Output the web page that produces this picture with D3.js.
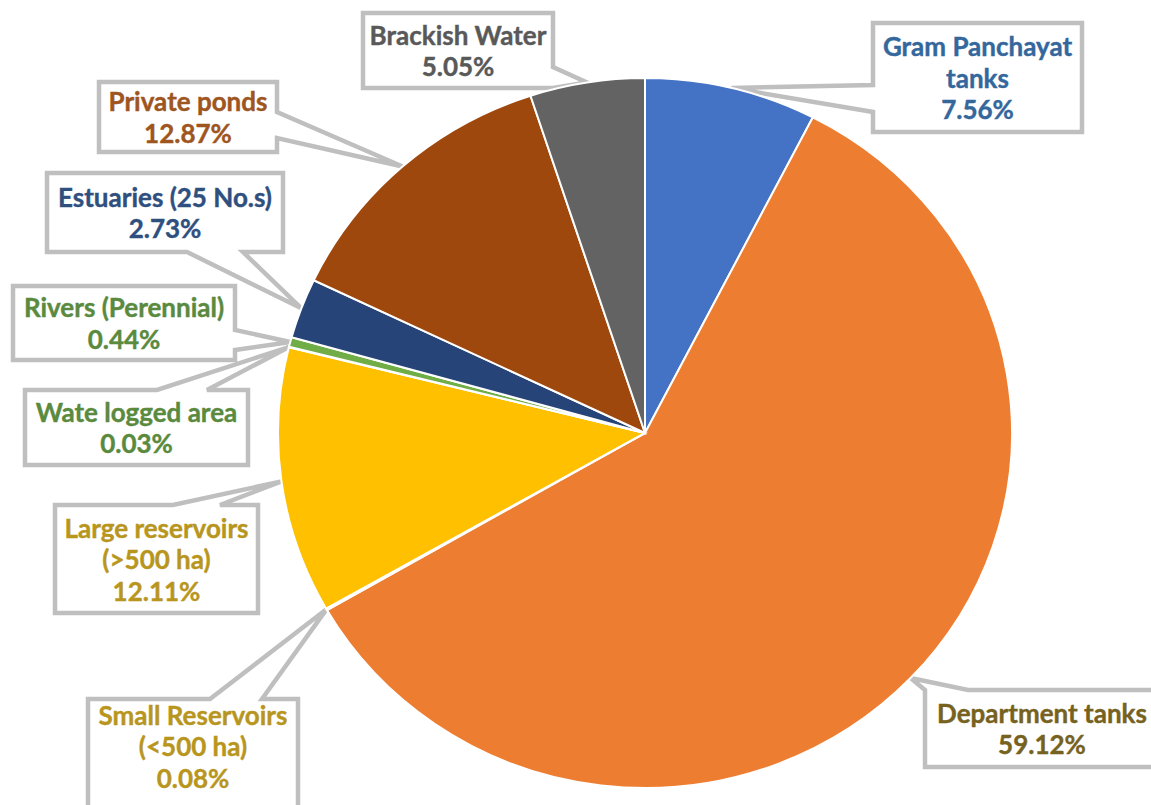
<!DOCTYPE html>
<meta charset="utf-8">
<script src="https://d3js.org/d3.v7.min.js"></script>
<style type="text/css">
	body { margin: 0; background: #fff; }
	svg { display: block; }
	.callout path {
		fill: #fff;
		stroke: #bfbfbf;
		stroke-width: 4.5px;
		stroke-linejoin: miter;
	}
	.callout text {
		font-family: Lato, "Open Sans", sans-serif;
		font-weight: 700;
		font-size: 26px;
		text-anchor: middle;
		dominant-baseline: central;
		stroke-width: 0.4px;
	}
</style>
<body>
</body>
<script>

// data, clockwise from 12 o'clock
var categories = ["Gram Panchayat tanks", "Department tanks", "Small Reservoirs (<500 ha)",
  "Large reservoirs (>500 ha)", "Wate logged area", "Rivers (Perennial)",
  "Estuaries (25 No.s)", "Private ponds", "Brackish Water"];
var shares = [7.56, 59.12, 0.08, 12.11, 0.03, 0.44, 2.73, 12.87, 5.05];
var labelLines = [
  ["Gram Panchayat", "tanks"],
  ["Department tanks"],
  ["Small Reservoirs", "(<500 ha)"],
  ["Large reservoirs", "(>500 ha)"],
  ["Wate logged area"],
  ["Rivers (Perennial)"],
  ["Estuaries (25 No.s)"],
  ["Private ponds"],
  ["Brackish Water"]
];
var sliceColors = ["#4472c4", "#ed7d31", "#a5a5a5", "#ffc000", "#5b9bd5", "#70ad47", "#264478", "#9e480e", "#636363"];
var textColors = ["#34679c", "#76621e", "#b8961e", "#b8961e", "#5a8a3e", "#5a8a3e", "#2f4f7f", "#9e5520", "#595959"];

// layout of the callout boxes (x0, y0, x1, y1), side where the pointer leaves
var callouts = [
  {box: [873, 23, 1082, 132], side: "left", base: [85, 112]},
  {box: [925, 690, 1159, 767], side: "top", base: [925, 968]},
  {box: [88, 699, 298, 830], side: "top", base: [210, 262], textY: 746},
  {box: [55, 505, 258, 613], side: "top", base: [173, 220]},
  {box: [25, 390, 248, 465], side: "top", base: [157, 207]},
  {box: [13, 286, 235, 360], side: "right", base: [330, 350]},
  {box: [47, 173, 283, 252], side: "bottom", base: [187, 243]},
  {box: [99, 82, 277, 152], side: "right", base: [112, 138]},
  {box: [363, 13, 553, 88], side: "right", base: [67, 88]}
];

var width = 1151, height = 805;
var cx = 645, cy = 433;
var radius = 355;
var sx = 367 / 355; // picture is a little wider than tall

var data = categories.map(function(c, i) {
  return {name: c, value: shares[i], lines: labelLines[i], color: sliceColors[i], text: textColors[i], layout: callouts[i]};
});

var svg = d3.select("body").append("svg")
    .attr("width", width)
    .attr("height", height);

var pie = d3.pie().sort(null).value(function(d) { return d.value; });
var arcs = pie(data);

var arc = d3.arc().innerRadius(0).outerRadius(radius);
var edge = d3.arc().innerRadius(radius).outerRadius(radius);

// callouts first so the pie sits on top of the pointer tips
var fmt = d3.format(".2f");

function calloutPath(d) {
  var L = d.data.layout, b = L.box;
  var x0 = b[0], y0 = b[1], x1 = b[2], y1 = b[3];
  var c = edge.centroid(d);
  var t = [cx + c[0] * sx, cy + c[1]];
  var p = d3.path();
  p.moveTo(x0, y0);
  if (L.side == "top") { p.lineTo(L.base[0], y0); p.lineTo(t[0], t[1]); p.lineTo(L.base[1], y0); }
  p.lineTo(x1, y0);
  if (L.side == "right") { p.lineTo(x1, L.base[0]); p.lineTo(t[0], t[1]); p.lineTo(x1, L.base[1]); }
  p.lineTo(x1, y1);
  if (L.side == "bottom") { p.lineTo(L.base[1], y1); p.lineTo(t[0], t[1]); p.lineTo(L.base[0], y1); }
  p.lineTo(x0, y1);
  if (L.side == "left") { p.lineTo(x0, L.base[1]); p.lineTo(t[0], t[1]); p.lineTo(x0, L.base[0]); }
  p.closePath();
  return p.toString();
}

var callout = svg.selectAll(".callout")
  .data(arcs).enter().append("g")
  .attr("class", "callout");

callout.append("path")
  .attr("d", calloutPath);

callout.each(function(d) {
  var b = d.data.layout.box;
  var lines = d.data.lines.concat([fmt(d.data.value) + "%"]);
  var lh = 31.5;
  var midY = d.data.layout.textY || (b[1] + b[3]) / 2;
  var top = midY - (lines.length - 1) * lh / 2;
  d3.select(this).selectAll("text")
    .data(lines).enter().append("text")
    .attr("x", (b[0] + b[2]) / 2)
    .attr("y", function(s, i) { return top + i * lh; })
    .style("fill", d.data.text)
    .style("stroke", d.data.text)
    .text(function(s) { return s; });
});

// pie
var pieG = svg.append("g")
  .attr("transform", "translate(" + cx + "," + cy + ") scale(" + sx + ",1)");

pieG.selectAll(".slice")
  .data(arcs).enter().append("path")
  .attr("class", "slice")
  .attr("d", arc)
  .style("fill", function(d) { return d.data.color; })
  .style("stroke", "#fff")
  .style("stroke-width", 2)
  .attr("vector-effect", "non-scaling-stroke");

</script>
